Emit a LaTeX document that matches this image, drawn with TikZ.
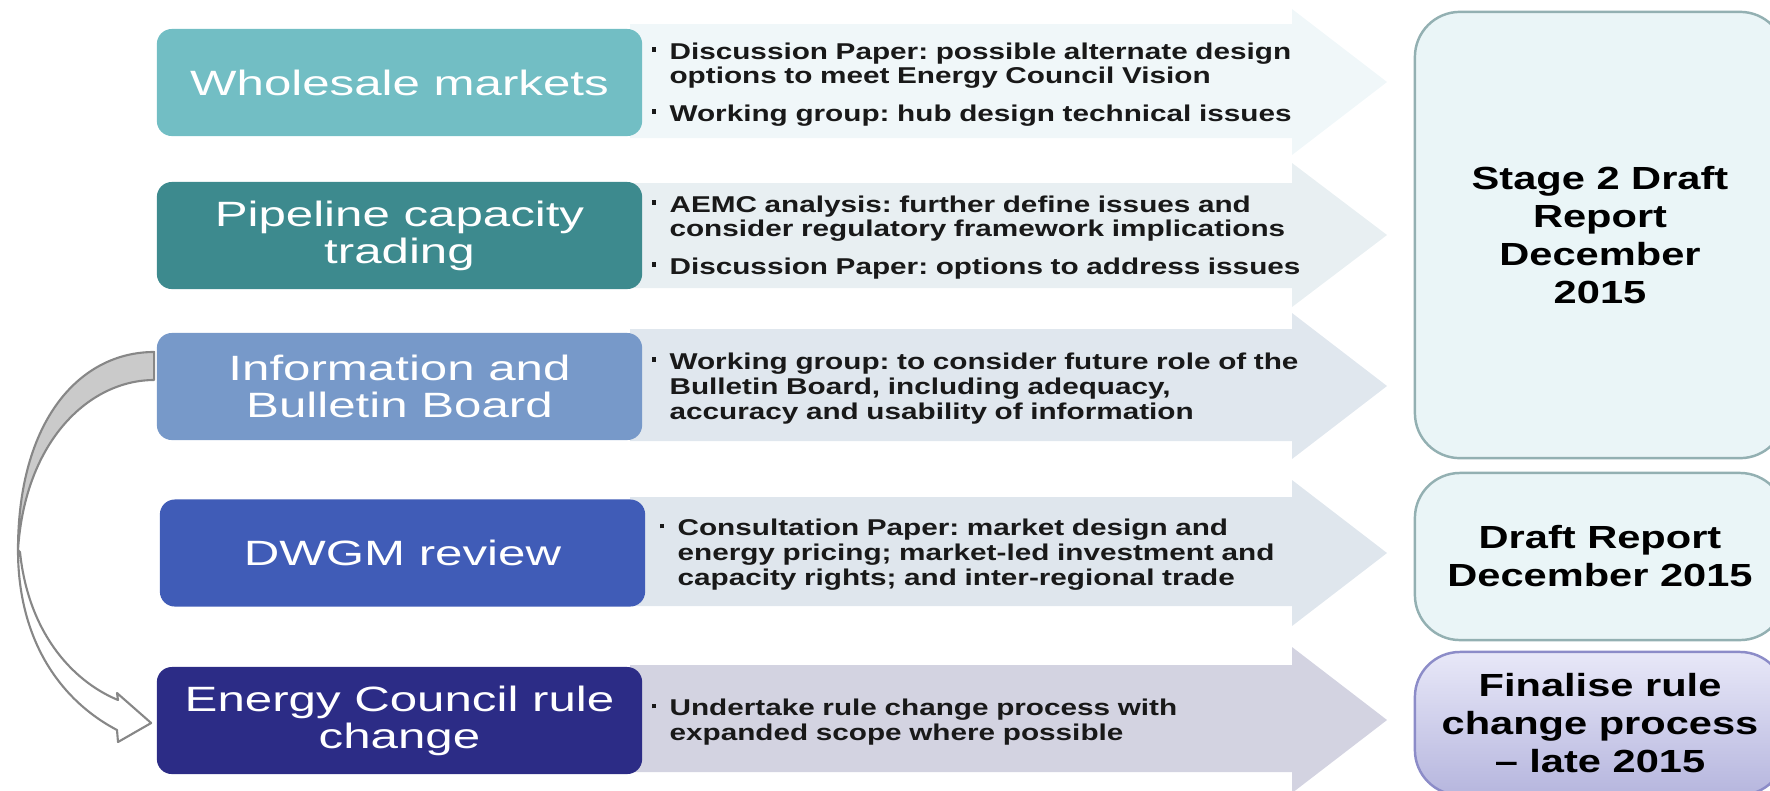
\documentclass[tikz,border=0pt]{standalone}
\usepackage{fontspec}
\setmainfont{Liberation Sans}
\newfontfamily\labelfont[FakeStretch=1.4]{Liberation Sans}
\newfontfamily\notefont[FakeStretch=1.3]{Liberation Sans}
\frenchspacing
\usetikzlibrary{positioning}
\definecolor{wholecol}{RGB}{114,190,196}
\definecolor{pipecol}{RGB}{61,138,142}
\definecolor{infocol}{RGB}{119,153,201}
\definecolor{dwgmcol}{RGB}{64,92,183}
\definecolor{rulecol}{RGB}{44,44,134}
\definecolor{arrA}{RGB}{240,247,249}
\definecolor{arrB}{RGB}{232,239,242}
\definecolor{arrC}{RGB}{224,231,238}
\definecolor{arrD}{RGB}{223,230,237}
\definecolor{arrE}{RGB}{211,211,225}
\definecolor{stagefill}{RGB}{234,245,247}
\definecolor{stageline}{RGB}{147,176,178}
\definecolor{finalline}{RGB}{140,140,200}
\definecolor{finaltop}{RGB}{232,232,248}
\definecolor{finalbot}{RGB}{182,182,222}
\definecolor{bandline}{RGB}{135,135,135}
\definecolor{bandfill}{RGB}{202,202,202}
\newcommand{\notebullet}[1]{\par\noindent\hangindent=0.18cm\hangafter=1\makebox[0.18cm][l]{\rule[2.1pt]{1.3pt}{1.3pt}}#1\par}
\tikzset{topicBox/.style={rectangle,rounded corners=0.15cm,text=white,align=center,minimum width=4.85cm,minimum height=1.07cm,inner sep=2pt,font=\labelfont\fontsize{10}{10.5}\selectfont}}
\tikzset{reportBox/.style={rectangle,rounded corners=0.45cm,draw=stageline,line width=0.7pt,fill=stagefill,align=center,minimum width=3.7cm,font=\notefont\bfseries\fontsize{9.1}{10.8}\selectfont}}
\tikzset{noteText/.style={anchor=west,text width=8cm,align=left,inner sep=0pt,text=black!90,font=\notefont\bfseries\fontsize{6.5}{5.7}\selectfont}}

\begin{document}
\begin{tikzpicture}[x=0.01cm,y=-0.01cm,bandLine/.style={draw=bandline,line width=0.6pt,line join=round}]
	\useasboundingbox (0,0) rectangle (1770,790);
	\clip (0,0) rectangle (1770,790);
	% arrows behind the topics
	\fill[arrA] (630,24) -- (1292,24) -- (1292,9) -- (1387,82) -- (1292,155) -- (1292,138) -- (630,138) -- cycle;
	\fill[arrB] (630,183) -- (1292,183) -- (1292,163) -- (1387,235) -- (1292,307) -- (1292,288) -- (630,288) -- cycle;
	\fill[arrC] (630,329) -- (1292,329) -- (1292,313) -- (1387,386) -- (1292,459) -- (1292,441) -- (630,441) -- cycle;
	\fill[arrD] (630,497) -- (1292,497) -- (1292,480) -- (1387,553) -- (1292,626) -- (1292,606) -- (630,606) -- cycle;
	\fill[arrE] (630,665) -- (1292,665) -- (1292,647) -- (1387,720) -- (1292,793) -- (1292,772) -- (630,772) -- cycle;
	% topics
	\node[topicBox,fill=wholecol] (whole) at (399.5,82.5) {Wholesale markets};
	\node[topicBox,fill=pipecol] (pipe) at (399.5,235.5) {Pipeline capacity\\trading};
	\node[topicBox,fill=infocol] (info) at (399.5,386.5) {Information and\\Bulletin Board};
	\node[topicBox,fill=dwgmcol] (dwgm) at (402.5,553) {DWGM review};
	\node[topicBox,fill=rulecol] (rule) at (399.5,720.5) {Energy Council rule\\change};
	% notes in the arrows
	\node[noteText,right=0.08cm of whole] (wholeNote) {\notebullet{Discussion Paper: possible alternate design\newline options to meet Energy Council Vision}\vspace{3.5pt}\notebullet{Working group: hub design technical issues}};
	\node[noteText,right=0.08cm of pipe] (pipeNote) {\notebullet{AEMC analysis: further define issues and\newline consider regulatory framework implications}\vspace{3.5pt}\notebullet{Discussion Paper: options to address issues}};
	\node[noteText,right=0.08cm of info] (infoNote) {\notebullet{Working group: to consider future role of the\newline Bulletin Board, including adequacy,\newline accuracy and usability of information}};
	\node[noteText,right=0.13cm of dwgm] (dwgmNote) {\notebullet{Consultation Paper: market design and\newline energy pricing; market-led investment and\newline capacity rights; and inter-regional trade}};
	\node[noteText,right=0.08cm of rule] (ruleNote) {\notebullet{Undertake rule change process with\newline expanded scope where possible}};
	% reports
	\node[reportBox,minimum height=4.46cm] (stage) at (1600,235) {Stage 2 Draft\\Report\\December\\2015};
	\node[reportBox,minimum height=1.67cm] (draft) at (1600,556.5) {Draft Report\\December 2015};
	\node[reportBox,draw=finalline,top color=finaltop,bottom color=finalbot,minimum height=1.43cm] (final) at (1600,723.5) {Finalise rule\\change process\\– late 2015};
	% curved arrow from info to rule
	\draw[bandLine,fill=bandfill] ([xshift=-0.02cm,yshift=0.345cm]info.west) .. controls (80,352) and (18,420) .. (18,550) .. controls (25,440) and (90,380) .. ([xshift=-0.02cm,yshift=0.065cm]info.west) -- cycle;
	\draw[bandLine,fill=white] (18,550) .. controls (18,640) and (60,700) .. (117,730) -- (118,742) -- ([xshift=-0.05cm,yshift=-0.025cm]rule.west) -- (117,693) -- (118,700) .. controls (70,680) and (28,630) .. (20,552) -- cycle;
\end{tikzpicture}
\end{document}
